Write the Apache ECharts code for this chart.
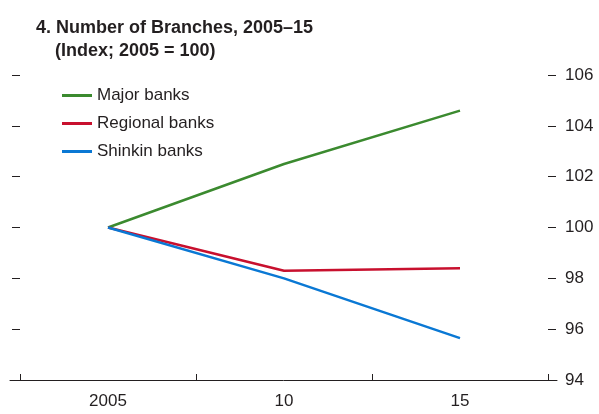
<!DOCTYPE html>
<html><head><meta charset="utf-8">
<script src="https://cdn.jsdelivr.net/npm/echarts@6/dist/echarts.min.js"></script>
<style>html,body{margin:0;padding:0;background:#fff}#c{width:599px;height:414px}</style>
</head><body><div id="c"></div>
<script>
const categories = ['2005', '10', '15'];
const majorBanks = [100, 102.5, 104.6];
const regionalBanks = [100, 98.3, 98.4];
const shinkinBanks = [100, 98.0, 95.65];
const yMin = 94, yMax = 106, yStep = 2;
const FONT = '"Liberation Sans Narrow", "Liberation Sans", Arial, sans-serif';
const TXT = '#231f20';

const chart = echarts.init(document.getElementById('c'), null, {renderer: 'canvas'});
const yCommon = {
  type: 'value', min: yMin, max: yMax, interval: yStep,
  axisLine: {show: false}, splitLine: {show: false},
  axisTick: {show: true, inside: false, length: 8, lineStyle: {color: TXT, width: 1}}
};
chart.setOption({
  animation: false,
  title: [
    {text: '4. Number of Branches, 2005–15', left: 36, top: 19, padding: 0,
     textStyle: {fontFamily: FONT, fontSize: 18, fontWeight: 'bold', color: TXT}},
    {text: '(Index; 2005 = 100)', left: 55, top: 42, padding: 0,
     textStyle: {fontFamily: FONT, fontSize: 18, fontWeight: 'bold', color: TXT}}
  ],
  legend: {
    orient: 'vertical', left: 62, top: 87, itemGap: 11, padding: 0,
    itemWidth: 30, itemHeight: 3, icon: 'rect',
    textStyle: {fontFamily: FONT, fontSize: 17, color: TXT, padding: [0, 0, 0, 0]},
    data: ['Major banks', 'Regional banks', 'Shinkin banks']
  },
  grid: [
    {left: 20, right: 51, top: 75, bottom: 34},
    {left: 10, right: 42, top: 75, bottom: 34}
  ],
  xAxis: [
    {type: 'category', data: categories, boundaryGap: true, gridIndex: 0,
     axisLine: {show: false},
     axisTick: {show: true, inside: true, length: 6, lineStyle: {color: TXT}},
     axisLabel: {fontFamily: FONT, fontSize: 17, color: TXT, margin: 13},
     splitLine: {show: false}},
    {type: 'value', gridIndex: 1, min: 0, max: 1,
     axisLine: {show: true, lineStyle: {color: TXT, width: 1}},
     axisTick: {show: false}, axisLabel: {show: false}, splitLine: {show: false}}
  ],
  yAxis: [
    Object.assign({}, yCommon, {position: 'left', gridIndex: 0, axisLabel: {show: false}}),
    Object.assign({}, yCommon, {position: 'right', gridIndex: 0,
      axisLabel: {show: true, fontFamily: FONT, fontSize: 17, color: TXT, margin: 17}}),
    {type: 'value', gridIndex: 1, min: 0, max: 1, show: false}
  ],
  series: [
    {name: 'Major banks', type: 'line', data: majorBanks, symbol: 'none',
     lineStyle: {color: '#3b8a2f', width: 2.5}, itemStyle: {color: '#3b8a2f'}},
    {name: 'Regional banks', type: 'line', data: regionalBanks, symbol: 'none',
     lineStyle: {color: '#c8102e', width: 2.5}, itemStyle: {color: '#c8102e'}},
    {name: 'Shinkin banks', type: 'line', data: shinkinBanks, symbol: 'none',
     lineStyle: {color: '#0a78d4', width: 2.5}, itemStyle: {color: '#0a78d4'}}
  ]
});
</script></body></html>
